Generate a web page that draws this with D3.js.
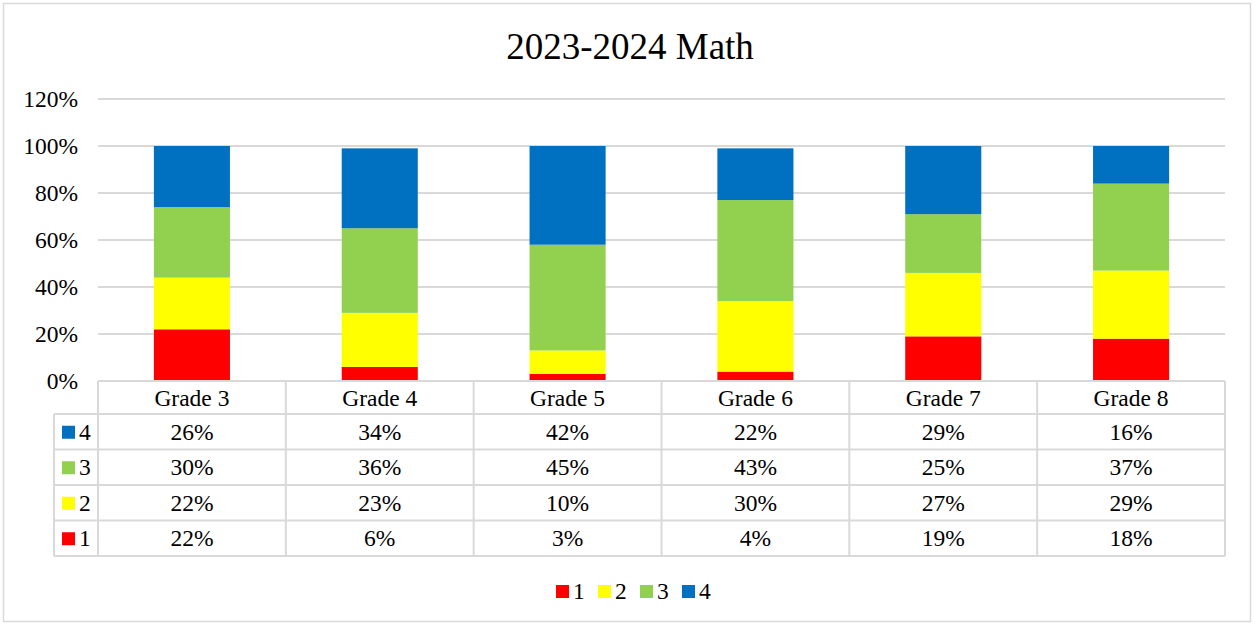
<!doctype html>
<html>
<head>
<meta charset="UTF-8">
<title>2023-2024 Math</title>
<script src="https://d3js.org/d3.v7.min.js"></script>
<style>
  body { margin: 0; background: #fff; }
  text { font-family: "Liberation Serif", "Times New Roman", serif; fill: #000; }
</style>
</head>
<body>
<svg id="chart" width="1255" height="626"></svg>
<script>
// data
var grades = ["Grade 3", "Grade 4", "Grade 5", "Grade 6", "Grade 7", "Grade 8"];
var levels = ["1", "2", "3", "4"];
var level1 = [22, 6, 3, 4, 19, 18];
var level2 = [22, 23, 10, 30, 27, 29];
var level3 = [30, 36, 45, 43, 25, 37];
var level4 = [26, 34, 42, 22, 29, 16];
var yTicks = [0, 20, 40, 60, 80, 100, 120];
var colors = ["#ff0000", "#ffff00", "#92d050", "#0070c0"];

var series = [level1, level2, level3, level4];
var rows = grades.map(function (g, i) {
    var r = { grade: g };
    levels.forEach(function (l, j) { r[l] = series[j][i]; });
    return r;
});

var svg = d3.select("#chart");
var plotL = 98, plotR = 1225, plotT = 99, plotB = 381;
var fs = 23.5;

// outer border
svg.append("rect").attr("x", 3.5).attr("y", 3.5).attr("width", 1247).attr("height", 618)
    .attr("fill", "#fff").attr("stroke", "#d9d9d9").attr("stroke-width", 1.5);

svg.append("text").attr("x", 630).attr("y", 59).attr("text-anchor", "middle")
    .attr("font-size", 37).text("2023-2024 Math");

var x = d3.scaleBand().domain(grades).range([plotL, plotR]).paddingInner(0.595).paddingOuter(0.2975);
var band = d3.scaleBand().domain(grades).range([plotL, plotR]);
var y = d3.scaleLinear().domain([0, 120]).range([plotB, plotT]);

// gridlines
svg.append("g").selectAll("line").data(yTicks.filter(function (t) { return t > 0; })).enter()
    .append("line")
    .attr("x1", plotL).attr("x2", plotR)
    .attr("y1", function (d) { return y(d); }).attr("y2", function (d) { return y(d); })
    .attr("stroke", "#d9d9d9").attr("stroke-width", 2);

// y axis labels
var yAxis = d3.axisLeft(y).tickValues(yTicks).tickSize(0).tickPadding(20)
    .tickFormat(function (d) { return d + "%"; });
var ya = svg.append("g").attr("transform", "translate(" + plotL + ",0)").call(yAxis);
ya.select(".domain").remove();
ya.attr("font-family", null);
ya.selectAll("text").attr("font-size", fs).attr("fill", "#000");

// stacked bars
var stack = d3.stack().keys(levels)(rows);
svg.append("g").selectAll("g").data(stack).enter().append("g")
    .attr("fill", function (d, i) { return colors[i]; })
    .selectAll("rect").data(function (d) { return d; }).enter().append("rect")
    .attr("x", function (d) { return x(d.data.grade); })
    .attr("width", x.bandwidth())
    .attr("y", function (d) { return y(d[1]); })
    .attr("height", function (d) { return y(d[0]) - y(d[1]); });

// data table
var rowH = 35.5, headH = 33, tableLeft = 54;
var tableLines = svg.append("g").attr("stroke", "#d9d9d9").attr("stroke-width", 2).attr("fill", "none");
var bodyTop = plotB + headH;
var tableBottom = bodyTop + rowH * 4;
tableLines.append("line").attr("x1", plotL).attr("x2", plotR).attr("y1", plotB).attr("y2", plotB);
tableLines.append("line").attr("x1", tableLeft).attr("x2", plotR).attr("y1", bodyTop).attr("y2", bodyTop);
for (var k = 1; k <= 4; k++) {
    tableLines.append("line").attr("x1", tableLeft).attr("x2", plotR)
        .attr("y1", bodyTop + rowH * k).attr("y2", bodyTop + rowH * k);
}
tableLines.append("line").attr("x1", tableLeft).attr("x2", tableLeft).attr("y1", bodyTop).attr("y2", tableBottom);
grades.forEach(function (g) {
    tableLines.append("line").attr("x1", band(g)).attr("x2", band(g)).attr("y1", plotB).attr("y2", tableBottom);
});
tableLines.append("line").attr("x1", plotR).attr("x2", plotR).attr("y1", plotB).attr("y2", tableBottom);

svg.append("g").selectAll("text").data(grades).enter().append("text")
    .attr("x", function (d) { return band(d) + band.bandwidth() / 2; })
    .attr("y", plotB + headH / 2 + 8)
    .attr("text-anchor", "middle").attr("font-size", fs)
    .text(function (d) { return d; });

var order = [3, 2, 1, 0];
order.forEach(function (s, r) {
    var cy = bodyTop + rowH * r + rowH / 2;
    svg.append("rect").attr("x", 62).attr("y", cy - 6).attr("width", 13).attr("height", 13).attr("fill", colors[s]);
    svg.append("text").attr("x", 79).attr("y", cy + 8).attr("font-size", fs).text(levels[s]);
    svg.append("g").selectAll("text").data(series[s]).enter().append("text")
        .attr("x", function (d, i) { return band(grades[i]) + band.bandwidth() / 2; })
        .attr("y", cy + 8).attr("text-anchor", "middle").attr("font-size", fs)
        .text(function (d) { return d + "%"; });
});

// legend
var legend = svg.append("g").selectAll("g").data(levels).enter().append("g")
    .attr("transform", function (d, i) { return "translate(" + (556 + i * 42) + ",585)"; });
legend.append("rect").attr("width", 13).attr("height", 13).attr("fill", function (d, i) { return colors[i]; });
legend.append("text").attr("x", 17).attr("y", 14).attr("font-size", fs).text(function (d) { return d; });
</script>
</body>
</html>
